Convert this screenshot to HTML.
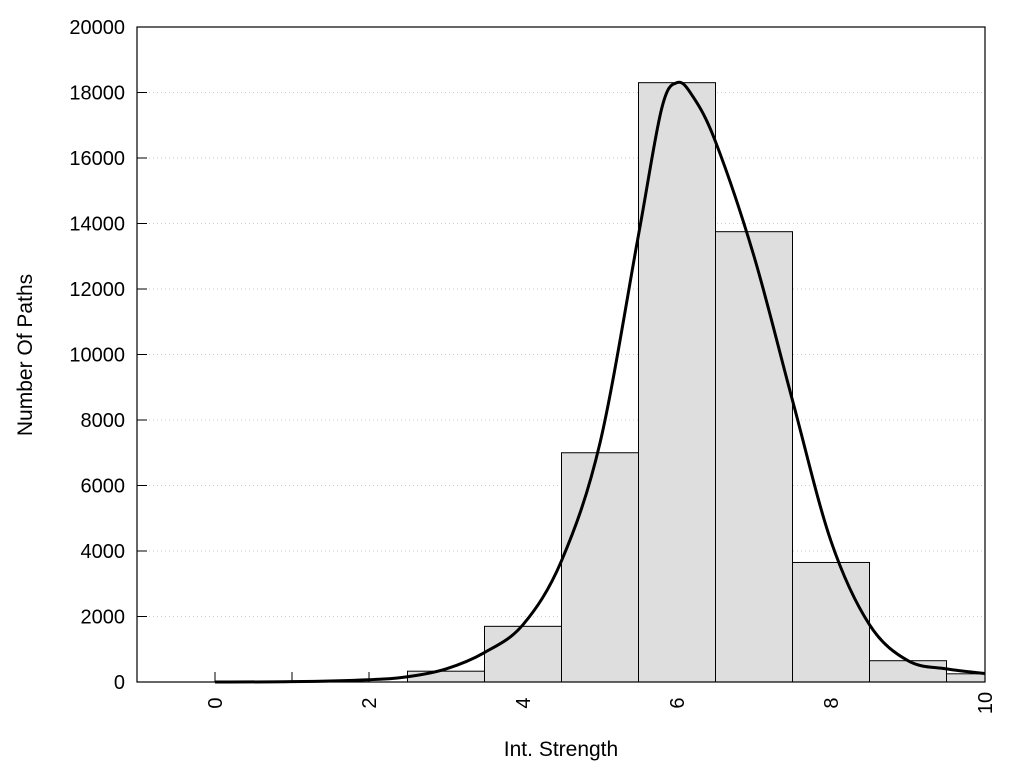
<!DOCTYPE html><html><head><style>body{margin:0;background:#fff}svg{display:block}text{font-family:"Liberation Sans",Arial,sans-serif;fill:#000}</style></head><body>
<svg id="s" width="1024" height="768" xmlns="http://www.w3.org/2000/svg">
<g id="grid" stroke="#ccc" stroke-dasharray="1,3" stroke-width="1"></g>
<g id="ticks" stroke="#000" stroke-width="1"></g>
<g id="bars" fill="#dedede" stroke="#000" stroke-width="1"></g>
<rect x="137" y="27" width="848" height="655" fill="none" stroke="#000" stroke-width="1.2"/>
<path id="curve" fill="none" stroke="#000" stroke-width="3"/>
<g id="lab" font-size="20"></g>
<text x="561" y="756" font-size="21" text-anchor="middle">Int. Strength</text>
<text transform="translate(32,355) rotate(-90)" font-size="21" text-anchor="middle">Number Of Paths</text>
</svg>
<script>
var ns="http://www.w3.org/2000/svg";
function X(v){return 215+77*v}function Y(v){return 682-v*0.03275}
function el(p,t,a,txt){var e=document.createElementNS(ns,t);for(var k in a)e.setAttribute(k,a[k]);if(txt!=null)e.textContent=txt;document.getElementById(p).appendChild(e);return e}
for(var v=2000;v<20000;v+=2000)el("grid","line",{x1:137,x2:985,y1:Y(v),y2:Y(v)});
for(var v=0;v<=20000;v+=2000){el("ticks","line",{x1:137,x2:147,y1:Y(v),y2:Y(v)});el("lab","text",{x:125,y:Y(v)+7,"text-anchor":"end"},v)}
for(var i=0;i<=10;i++)el("ticks","line",{x1:X(i),x2:X(i),y1:682,y2:672});
for(var i=0;i<=10;i+=2)el("lab","text",{transform:"translate("+(X(i)+7)+",703) rotate(-90)","text-anchor":"middle"},i);
var b=[[3,330],[4,1700],[5,7000],[6,18300],[7,13750],[8,3650],[9,650]];
b.forEach(function(d){el("bars","rect",{x:X(d[0]-0.5),y:Y(d[1]),width:77,height:682-Y(d[1])})});
el("bars","rect",{x:X(9.5),y:Y(250),width:X(10)-X(9.5),height:682-Y(250)});
var p=[[0,0],[1,10],[2,70],[2.5,160],[3,400],[3.5,900],[4,1750],[4.5,3700],[5,7300],[5.5,13650],[5.8,17500],[6,18300],[6.2,17900],[6.5,16500],[7,13000],[7.5,8600],[8,4300],[8.5,1750],[9,650],[9.5,400],[10,260]];
var P=p.map(function(d){return[X(d[0]),Y(d[1])]});var s="M"+P[0];
for(var i=0;i<P.length-1;i++){var a=P[i-1]||P[i],b0=P[i],c=P[i+1],d=P[i+2]||c;
s+=" C"+(b0[0]+(c[0]-a[0])/6)+","+(b0[1]+(c[1]-a[1])/6)+" "+(c[0]-(d[0]-b0[0])/6)+","+(c[1]-(d[1]-b0[1])/6)+" "+c;}
document.getElementById("curve").setAttribute("d",s);
</script></body></html>
